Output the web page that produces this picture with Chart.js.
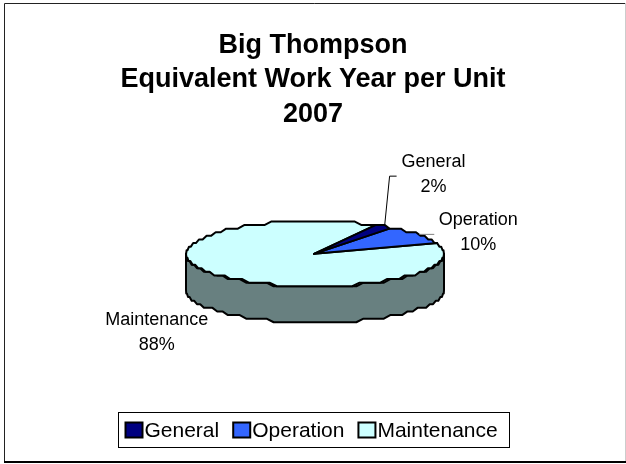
<!DOCTYPE html>
<html>
<head>
<meta charset="utf-8">
<style>
  html, body { margin: 0; padding: 0; background: #fff; }
  #wrap { position: absolute; left: 0; top: 0; width: 626px; height: 464px; }
</style>
<script src="https://cdn.jsdelivr.net/npm/chart.js@4"></script>
</head>
<body>
<div id="wrap"><canvas id="chart" width="626" height="464"></canvas></div>
<script>
const titleLines = ['Big Thompson', 'Equivalent Work Year per Unit', '2007'];
const categories = ['General', 'Operation', 'Maintenance'];
const shares = [2, 10, 88];
const sliceColors = ['#000080', '#3366FF', '#CCFFFF'];

const fontFamily = '"Liberation Sans", Arial, sans-serif';
const squash = 0.252;     // tilt of the pie
const depth = 36;         // height of the wall
const wallColor = '#688080';
const rimShift = 2;       // rim sits a little right of the chart centre
const apexShift = 1;

// outline of the pie is stepped in the original, keep that look
function rimPath(ctx, arc, r, from, to, dy) {
  const n = Math.max(2, Math.ceil(Math.abs(to - from) / 0.06));
  for (let i = 0; i <= n; i++) {
    const ang = from + (to - from) * i / n;
    const y = r * squash * Math.sin(ang);
    ctx.lineTo(arc.x + rimShift + r * Math.cos(ang), arc.y + Math.round(y / 3.6) * 3.6 + dy);
  }
}
function rimMiddle(a, r) {
  const mid = (a.startAngle + a.endAngle) / 2;
  return { x: a.x + rimShift + r * Math.cos(mid), y: a.y + r * squash * Math.sin(mid) };
}

// squashes the arcs computed by Chart.js into a tilted pie with a wall
const tiltedPie = {
  id: 'tiltedPie',
  beforeDatasetDraw(chart) {
    const ctx = chart.ctx;
    const arcs = chart.getDatasetMeta(0).data;
    const first = arcs[0];
    const r = first.outerRadius;
    ctx.save();
    ctx.lineJoin = 'round';
    ctx.lineWidth = 2;
    ctx.strokeStyle = '#000';

    ctx.beginPath();
    rimPath(ctx, first, r, 0, Math.PI, 0);
    rimPath(ctx, first, r, Math.PI, 0, depth);
    ctx.closePath();
    ctx.fillStyle = wallColor;
    ctx.fill();
    ctx.stroke();

    [2, 1, 0].forEach(i => {
      const a = arcs[i];
      ctx.beginPath();
      ctx.moveTo(a.x + apexShift, a.y);
      rimPath(ctx, a, r, a.startAngle, a.endAngle, 0);
      ctx.closePath();
      ctx.fillStyle = sliceColors[i];
      ctx.fill();
      ctx.stroke();
    });
    ctx.restore();
    return false;
  },
  afterDraw(chart) {
    const ctx = chart.ctx;
    const arcs = chart.getDatasetMeta(0).data;
    const r = arcs[0].outerRadius;
    ctx.save();

    // chart frame: dark left/top/bottom, pale right edge
    ctx.strokeStyle = '#222';
    ctx.lineWidth = 1;
    ctx.beginPath();
    ctx.moveTo(4.5, 462);
    ctx.lineTo(4.5, 3.5);
    ctx.lineTo(625, 3.5);
    ctx.stroke();
    ctx.strokeStyle = '#ccc';
    ctx.beginPath();
    ctx.moveTo(625.5, 3);
    ctx.lineTo(625.5, 462);
    ctx.stroke();
    ctx.fillStyle = '#000';
    ctx.fillRect(4, 461, 622, 2);

    // data labels, offset from the rim of each slice
    const offsets = [[51, -64], [60, -14], [-60, 45]];
    ctx.font = '18px ' + fontFamily;
    ctx.fillStyle = '#000';
    ctx.textAlign = 'center';
    ctx.textBaseline = 'middle';
    arcs.forEach((a, i) => {
      const m = rimMiddle(a, r);
      const lx = m.x + offsets[i][0];
      const ly = m.y + offsets[i][1];
      ctx.fillText(categories[i], lx, ly);
      ctx.fillText(shares[i] + '%', lx, ly + 25);
    });

    // leader lines
    const g = rimMiddle(arcs[0], r);
    ctx.strokeStyle = '#000';
    ctx.beginPath();
    ctx.moveTo(g.x + 2, g.y);
    ctx.lineTo(g.x + 7, g.y - 50);
    ctx.lineTo(g.x + 14, g.y - 50);
    ctx.stroke();
    const o = rimMiddle(arcs[1], r);
    ctx.strokeStyle = '#808080';
    ctx.beginPath();
    ctx.moveTo(o.x + 1, o.y);
    ctx.lineTo(o.x + 16, o.y);
    ctx.stroke();

    // legend
    ctx.strokeStyle = '#000';
    ctx.lineWidth = 1;
    ctx.strokeRect(118.5, 412.5, 391, 35);
    ctx.font = '21px ' + fontFamily;
    ctx.textAlign = 'left';
    let x = 125.5;
    categories.forEach((c, i) => {
      ctx.fillStyle = sliceColors[i];
      ctx.fillRect(x, 422.5, 17, 15);
      ctx.lineWidth = 2;
      ctx.strokeRect(x, 422.5, 17, 15);
      ctx.fillStyle = '#000';
      ctx.fillText(c, x + 19, 431);
      x += 19 + ctx.measureText(c).width + 14;
    });
    ctx.restore();
  }
};

new Chart(document.getElementById('chart'), {
  type: 'pie',
  data: {
    labels: categories,
    datasets: [{
      data: shares,
      backgroundColor: sliceColors,
      borderColor: '#000',
      borderWidth: 2
    }]
  },
  options: {
    responsive: false,
    animation: false,
    rotation: 28,
    radius: 129,
    layout: { padding: { top: 28, bottom: 88, left: 0, right: 0 } },
    plugins: {
      tooltip: { enabled: false },
      legend: { display: false },
      title: {
        display: true,
        text: titleLines,
        color: '#000',
        font: { family: fontFamily, size: 27, weight: 'bold', lineHeight: 1.28 },
        padding: { top: 0, bottom: 0 }
      }
    }
  },
  plugins: [tiltedPie]
});
</script>
</body>
</html>
